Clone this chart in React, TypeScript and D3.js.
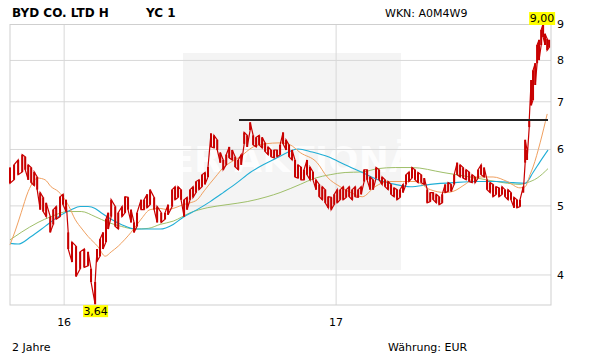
import React from "react";
import * as d3 from "d3";

// time in decimal years, price high / low (EUR)
const priceData: [number, number, number][] = [
  [2015.801, 5.66, 5.38], [2015.816, 5.71, 5.44], [2015.831, 5.8, 5.53], [2015.846, 5.9, 5.58],
  [2015.857, 5.86, 5.62], [2015.868, 5.71, 5.44], [2015.879, 5.66, 5.39], [2015.89, 5.58, 5.34],
  [2015.901, 5.49, 5.27], [2015.912, 5.22, 4.94], [2015.923, 5.14, 4.91], [2015.934, 5.05, 4.83],
  [2015.949, 4.83, 4.59], [2015.96, 4.94, 4.71], [2015.971, 4.99, 4.79], [2015.985, 5.15, 4.83],
  [2015.996, 5.19, 5.02], [2016.007, 5.1, 4.91], [2016.015, 4.59, 4.35], [2016.029, 4.45, 4.17],
  [2016.044, 4.39, 3.98], [2016.059, 4.31, 4.08], [2016.074, 4.35, 4.1], [2016.088, 4.31, 4.12],
  [2016.099, 4.08, 3.91], [2016.114, 3.91, 3.64], [2016.121, 4.35, 4.18], [2016.132, 4.49, 4.25],
  [2016.143, 4.59, 4.35], [2016.154, 4.79, 4.45], [2016.162, 4.89, 4.64], [2016.173, 5.1, 4.83],
  [2016.188, 4.99, 4.68], [2016.199, 4.89, 4.64], [2016.213, 4.99, 4.83], [2016.224, 5.15, 4.89],
  [2016.235, 5.14, 4.94], [2016.246, 4.94, 4.74], [2016.257, 4.74, 4.59], [2016.268, 4.89, 4.68],
  [2016.283, 5.1, 4.94], [2016.294, 5.1, 4.94], [2016.305, 5.19, 4.97], [2016.316, 5.27, 5.02],
  [2016.331, 5.14, 4.94], [2016.342, 4.99, 4.74], [2016.357, 4.89, 4.74], [2016.371, 4.89, 4.79],
  [2016.382, 5.02, 4.86], [2016.397, 5.27, 4.99], [2016.408, 5.32, 5.1], [2016.419, 5.32, 5.14],
  [2016.43, 5.27, 5.1], [2016.441, 5.1, 4.83], [2016.452, 5.14, 4.94], [2016.463, 5.27, 5.1],
  [2016.474, 5.32, 5.14], [2016.485, 5.41, 5.22], [2016.496, 5.44, 5.27], [2016.507, 5.53, 5.32],
  [2016.518, 5.57, 5.36], [2016.529, 5.67, 5.49], [2016.54, 6.32, 6.05], [2016.551, 6.28, 6.03],
  [2016.563, 6.19, 5.99], [2016.574, 5.94, 5.75], [2016.585, 5.8, 5.62], [2016.596, 5.9, 5.71],
  [2016.607, 6.05, 5.84], [2016.618, 5.99, 5.8], [2016.629, 5.86, 5.67], [2016.64, 5.8, 5.62],
  [2016.651, 5.9, 5.71], [2016.662, 6.34, 6.11], [2016.673, 6.28, 6.05], [2016.684, 6.55, 6.39],
  [2016.695, 6.28, 6.09], [2016.706, 6.24, 6.05], [2016.717, 6.28, 6.09], [2016.728, 6.24, 6.03],
  [2016.739, 6.13, 5.96], [2016.75, 6.05, 5.9], [2016.761, 5.99, 5.86], [2016.772, 5.99, 5.84],
  [2016.783, 5.99, 5.86], [2016.794, 6.09, 5.9], [2016.805, 6.34, 6.11], [2016.816, 6.19, 5.99],
  [2016.827, 6.09, 5.86], [2016.838, 5.99, 5.8], [2016.849, 5.8, 5.49], [2016.86, 5.71, 5.47],
  [2016.871, 5.67, 5.44], [2016.882, 5.62, 5.44], [2016.893, 5.8, 5.53], [2016.904, 5.67, 5.44],
  [2016.915, 5.58, 5.44], [2016.926, 5.44, 5.27], [2016.938, 5.36, 5.15], [2016.949, 5.32, 5.1],
  [2016.96, 5.27, 5.05], [2016.971, 5.15, 4.97], [2016.982, 5.14, 4.94], [2016.993, 5.19, 5.02],
  [2017.004, 5.27, 5.05], [2017.015, 5.27, 5.1], [2017.026, 5.32, 5.1], [2017.037, 5.27, 5.14],
  [2017.048, 5.32, 5.15], [2017.059, 5.27, 5.1], [2017.07, 5.32, 5.15], [2017.081, 5.27, 5.14],
  [2017.092, 5.32, 5.19], [2017.103, 5.62, 5.41], [2017.114, 5.62, 5.44], [2017.125, 5.49, 5.27],
  [2017.136, 5.44, 5.27], [2017.147, 5.66, 5.47], [2017.158, 5.62, 5.44], [2017.169, 5.49, 5.36],
  [2017.18, 5.44, 5.32], [2017.191, 5.41, 5.27], [2017.202, 5.36, 5.19], [2017.213, 5.3, 5.15],
  [2017.224, 5.27, 5.1], [2017.235, 5.27, 5.14], [2017.246, 5.36, 5.22], [2017.257, 5.53, 5.36],
  [2017.268, 5.58, 5.41], [2017.279, 5.66, 5.47], [2017.29, 5.62, 5.44], [2017.301, 5.57, 5.39],
  [2017.313, 5.53, 5.39], [2017.324, 5.47, 5.36], [2017.335, 5.27, 5.05], [2017.346, 5.22, 5.07],
  [2017.357, 5.22, 5.1], [2017.368, 5.19, 5.05], [2017.379, 5.15, 5.02], [2017.39, 5.19, 5.05],
  [2017.401, 5.36, 5.22], [2017.412, 5.39, 5.24], [2017.423, 5.36, 5.24], [2017.434, 5.53, 5.36],
  [2017.445, 5.75, 5.53], [2017.456, 5.71, 5.49], [2017.467, 5.66, 5.47], [2017.478, 5.62, 5.44],
  [2017.489, 5.58, 5.41], [2017.5, 5.53, 5.39], [2017.511, 5.49, 5.39], [2017.522, 5.62, 5.47],
  [2017.533, 5.71, 5.53], [2017.544, 5.66, 5.49], [2017.555, 5.44, 5.27], [2017.566, 5.39, 5.22],
  [2017.577, 5.36, 5.15], [2017.588, 5.32, 5.19], [2017.599, 5.3, 5.15], [2017.61, 5.32, 5.19],
  [2017.621, 5.27, 5.15], [2017.632, 5.27, 5.1], [2017.643, 5.22, 5.1], [2017.654, 5.14, 4.97],
  [2017.665, 5.1, 4.97], [2017.676, 5.1, 4.99], [2017.688, 5.32, 5.22], [2017.695, 6.19, 5.75],
  [2017.702, 5.99, 5.8], [2017.71, 6.6, 6.45], [2017.717, 7.51, 6.92], [2017.724, 7.75, 7.04],
  [2017.732, 7.93, 7.39], [2017.739, 8.41, 7.93], [2017.746, 8.55, 8.01], [2017.754, 8.83, 8.41],
  [2017.761, 9.0, 8.63], [2017.768, 8.72, 8.41], [2017.776, 8.58, 8.27], [2017.783, 8.55, 8.34],
];

const maFast: [number, number][] = [
  [2015.801, 4.41], [2015.82, 4.61], [2015.842, 4.89], [2015.868, 5.24], [2015.904, 5.47],
  [2015.93, 5.44], [2015.952, 5.32], [2015.978, 5.24], [2015.996, 5.15], [2016.018, 4.99],
  [2016.04, 4.79], [2016.066, 4.64], [2016.088, 4.53], [2016.125, 4.38], [2016.151, 4.25],
  [2016.173, 4.31], [2016.199, 4.39], [2016.224, 4.49], [2016.246, 4.59], [2016.283, 4.79],
  [2016.316, 4.94], [2016.353, 4.96], [2016.379, 4.94], [2016.408, 4.97], [2016.438, 5.02],
  [2016.463, 5.05], [2016.489, 5.1], [2016.515, 5.25], [2016.537, 5.38], [2016.563, 5.53],
  [2016.585, 5.66], [2016.61, 5.75], [2016.647, 5.86], [2016.695, 6.05], [2016.739, 6.11],
  [2016.794, 6.13], [2016.831, 6.09], [2016.868, 5.94], [2016.93, 5.75], [2016.967, 5.49],
  [2017.015, 5.32], [2017.059, 5.21], [2017.096, 5.15], [2017.143, 5.32], [2017.191, 5.41],
  [2017.243, 5.41], [2017.29, 5.41], [2017.346, 5.27], [2017.401, 5.22], [2017.43, 5.24],
  [2017.474, 5.36], [2017.518, 5.49], [2017.577, 5.49], [2017.629, 5.41], [2017.676, 5.3],
  [2017.695, 5.32], [2017.713, 5.53], [2017.724, 5.67], [2017.75, 6.13], [2017.776, 6.73],
];

const maMid: [number, number][] = [
  [2015.801, 4.43], [2015.831, 4.42], [2015.879, 4.53], [2015.93, 4.68], [2015.978, 4.83],
  [2016.026, 4.94], [2016.059, 4.99], [2016.088, 4.99], [2016.114, 4.96], [2016.136, 4.89],
  [2016.173, 4.79], [2016.21, 4.71], [2016.261, 4.64], [2016.309, 4.64], [2016.353, 4.64],
  [2016.401, 4.71], [2016.438, 4.82], [2016.489, 4.94], [2016.537, 5.07], [2016.585, 5.22],
  [2016.636, 5.39], [2016.684, 5.57], [2016.732, 5.71], [2016.783, 5.84], [2016.824, 5.95],
  [2016.86, 6.01], [2016.912, 5.95], [2016.971, 5.86], [2017.033, 5.71], [2017.096, 5.57],
  [2017.154, 5.44], [2017.217, 5.36], [2017.272, 5.32], [2017.346, 5.36], [2017.43, 5.39],
  [2017.518, 5.41], [2017.592, 5.41], [2017.651, 5.39], [2017.695, 5.38], [2017.724, 5.57],
  [2017.75, 5.77], [2017.779, 5.99],
];

const maSlow: [number, number][] = [
  [2015.801, 4.48], [2015.842, 4.59], [2015.904, 4.74], [2015.952, 4.83], [2016.015, 4.91],
  [2016.063, 4.91], [2016.114, 4.83], [2016.162, 4.74], [2016.21, 4.68], [2016.261, 4.64],
  [2016.309, 4.65], [2016.353, 4.71], [2016.401, 4.76], [2016.463, 4.89], [2016.526, 4.97],
  [2016.599, 5.02], [2016.673, 5.07], [2016.746, 5.15], [2016.794, 5.22], [2016.868, 5.36],
  [2016.923, 5.47], [2016.978, 5.53], [2017.033, 5.57], [2017.096, 5.58], [2017.154, 5.64],
  [2017.217, 5.66], [2017.279, 5.66], [2017.393, 5.57], [2017.518, 5.47], [2017.614, 5.39],
  [2017.676, 5.36], [2017.702, 5.39], [2017.739, 5.47], [2017.779, 5.64],
];

const resistance = { value: 6.6, from: 2016.643, to: 2017.779 };
const yTicks = [4, 5, 6, 7, 8, 9];
const xTicks = [2016, 2017];
const xTickLabels = ["16", "17"];
const maxLabel = "9,00";
const minLabel = "3,64";

const W = 611;
const H = 364;
const L = 10, R = 551, T = 24, B = 305;

export default function App() {
  const x = d3.scaleLinear().domain([2015.801, 2017.79]).range([L, R]);
  const y = d3.scaleLog().domain([3.63, 9.0]).range([B, T]);

  const line = d3
    .line<[number, number]>()
    .x((d) => x(d[0]))
    .y((d) => y(d[1]))
    .curve(d3.curveMonotoneX);

  // zigzag path through high / low of each bar (alternating), gives the dense bar texture
  const zig: [number, number][] = [];
  priceData.forEach((d, i) => {
    if (i % 2 === 0) {
      zig.push([d[0], d[1]]);
      zig.push([d[0], d[2]]);
    } else {
      zig.push([d[0], d[2]]);
      zig.push([d[0], d[1]]);
    }
  });
  const zigLine = d3
    .line<[number, number]>()
    .x((d) => x(d[0]))
    .y((d) => y(d[1]));

  const maxPt = priceData.reduce((a, b) => (b[1] > a[1] ? b : a));
  const minPt = priceData.reduce((a, b) => (b[2] < a[2] ? b : a));
  const font = "'DejaVu Sans', Verdana, sans-serif";

  return (
    <svg width={W} height={H} style={{ position: "absolute", left: 0, top: 0 }} fontFamily={font}>
      <rect x={0} y={0} width={W} height={H} fill="#fff" />
      {/* watermark */}
      <rect x={183} y={53} width={218} height={217} fill="#f4f4f4" />
      <text x={292} y={172} textAnchor="middle" fontSize={36} fontWeight="bold" fill="#fff" opacity={0.85}>
        DER AKTIONÄR
      </text>
      {/* grid */}
      {yTicks.slice(0, -1).map((v) => (
        <line key={v} x1={L} x2={R} y1={y(v)} y2={y(v)} stroke="#d8d8d8" strokeWidth={1} />
      ))}
      {xTicks.map((t) => (
        <line key={t} x1={x(t)} x2={x(t)} y1={T} y2={B} stroke="#d8d8d8" strokeWidth={1} />
      ))}
      <rect x={L} y={T + 0.5} width={R - L} height={B - T - 0.5} fill="none" stroke="#cfcfcf" strokeWidth={1} />
      {/* moving averages */}
      <path d={line(maSlow) || ""} fill="none" stroke="#9fbf6a" strokeWidth={1} />
      <path d={line(maMid) || ""} fill="none" stroke="#20aed6" strokeWidth={1.1} />
      <path d={line(maFast) || ""} fill="none" stroke="#f0a060" strokeWidth={1} />
      {/* price: high-low bars */}
      {priceData.map((d, i) => (
        <rect
          key={i}
          x={x(d[0]) - 1}
          width={2}
          y={y(d[1])}
          height={Math.max(1, y(d[2]) - y(d[1]))}
          fill="#c80000"
        />
      ))}
      <path d={zigLine(zig) || ""} fill="none" stroke="#c80000" strokeWidth={1.2} strokeLinejoin="miter" />
      {/* resistance line */}
      <line
        x1={x(resistance.from)}
        x2={x(resistance.to)}
        y1={y(resistance.value)}
        y2={y(resistance.value)}
        stroke="#222"
        strokeWidth={2}
      />
      {/* y labels */}
      {yTicks.map((v) => (
        <text key={v} x={R + 6} y={y(v)} dy="0.35em" fontSize={11} fill="#000">
          {v}
        </text>
      ))}
      {xTicks.map((t, i) => (
        <text key={t} x={x(t)} y={326} textAnchor="middle" fontSize={11} fill="#000">
          {xTickLabels[i]}
        </text>
      ))}
      {/* max / min labels */}
      <rect x={x(maxPt[0]) - 14} y={12} width={26} height={13} fill="#ffff00" />
      <text x={x(maxPt[0]) - 1} y={22} textAnchor="middle" fontSize={11} fill="#000">
        {maxLabel}
      </text>
      <rect x={x(minPt[0]) - 12} y={y(minPt[2]) + 1} width={25} height={12} fill="#ffff00" />
      <text x={x(minPt[0]) + 0.5} y={y(minPt[2]) + 11} textAnchor="middle" fontSize={11} fill="#000">
        {minLabel}
      </text>
      {/* titles */}
      <text x={12} y={17} fontSize={12} fontWeight="bold" fill="#000">BYD CO. LTD H</text>
      <text x={146} y={17} fontSize={12} fontWeight="bold" fill="#000">YC 1</text>
      <text x={385} y={17} fontSize={11} fill="#000">WKN: A0M4W9</text>
      <text x={12} y={351} fontSize={11} fill="#000">2 Jahre</text>
      <text x={388} y={351} fontSize={11} fill="#000">Währung: EUR</text>
    </svg>
  );
}
